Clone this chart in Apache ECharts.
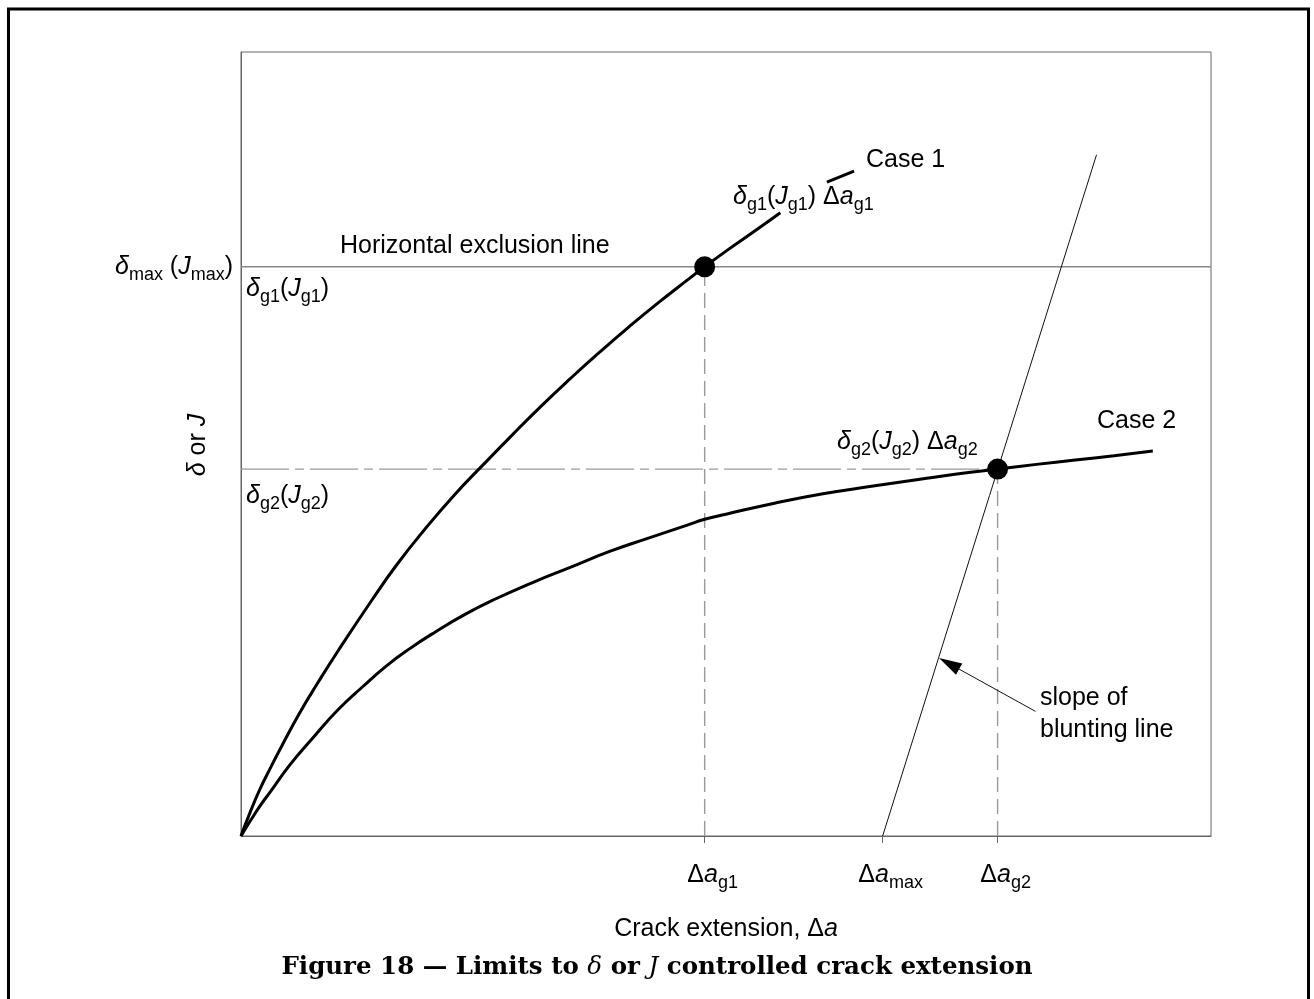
<!DOCTYPE html>
<html><head><meta charset="utf-8">
<script src="https://cdn.jsdelivr.net/npm/echarts@6/dist/echarts.min.js"></script>
<style>html,body{margin:0;padding:0;background:#fff}#c{width:1314px;height:999px}</style>
</head><body><div id="c"></div>
<script>
// ---------------- data ----------------
const xTickValues = [47.8, 66.15, 78.0];          // Δa_g1, Δa_max, Δa_g2
const xTickSubs   = ['g1', 'max', 'g2'];
const yTickValues = [72.6];                        // δmax (Jmax)
const deltaMax = 72.6;
const deltaG2  = 46.8;
const case1X = [0, 1, 2, 3, 4, 6, 8, 10, 13.5, 16, 19, 22, 25, 28, 31, 34, 37, 40, 43, 46, 47.8, 50, 53, 55.6];
const case1Y = [0, 3.2, 6.1, 8.6, 11.0, 15.6, 19.7, 23.6, 30.1, 34.5, 39.2, 43.5, 47.4, 51.2, 54.9, 58.4, 61.75, 64.95, 68.0, 70.9, 72.6, 74.6, 77.2, 79.5];
const case1TailX = [60.4, 63.2];
const case1TailY = [83.4, 84.8];
const case2X = [0, 1, 2, 3, 5, 7.4, 10, 12.6, 15, 17.4, 20, 23, 26, 30, 34, 38, 42, 46, 47.8, 50, 55, 60, 65, 70, 74, 78, 82, 86, 90, 94];
const case2Y = [0, 2.0, 3.9, 5.6, 9.0, 12.5, 16.1, 19.1, 21.7, 23.9, 26.0, 28.2, 30.1, 32.3, 34.3, 36.3, 38.0, 39.65, 40.4, 41.05, 42.45, 43.65, 44.6, 45.5, 46.2, 46.8, 47.4, 47.95, 48.5, 49.1];
const bluntX = [66.15, 88.2];
const bluntY = [0, 86.9];
const arrowTail = [81.9, 15.9];
const arrowHead = [71.96, 22.7];
const limitX = [47.8, 78.0];
const limitY = [72.6, 46.8];

// ---------------- styles ----------------
const F = 'Liberation Sans, Arial, Helvetica, sans-serif';
const FS = 'DejaVu Serif, Liberation Serif, serif';
const rich = {
  t:  {fontFamily: F, fontSize: 25, lineHeight: 30, color: '#000'},
  d:  {fontFamily: F, fontSize: 25, lineHeight: 30, color: '#000'},
  i:  {fontFamily: F, fontSize: 25, lineHeight: 30, fontStyle: 'italic', color: '#000'},
  s:  {fontFamily: F, fontSize: 18, lineHeight: 14, padding: [16, 0, 0, 0], color: '#000'},
  sp: {fontFamily: F, fontSize: 10, width: 16}
};
const zip = (xs, ys) => xs.map((x, k) => [x, ys[k]]);

const chart = echarts.init(document.getElementById('c'), null, {renderer: 'canvas'});
const option = {
  animation: false,
  backgroundColor: '#fff',
  grid: {left: 241, top: 52, right: 103, bottom: 163, show: true, borderColor: '#666', borderWidth: 1},
  xAxis: {
    type: 'value', min: 0, max: 100,
    splitLine: {show: false},
    axisLine: {show: true, lineStyle: {color: '#666', width: 1}},
    axisTick: {show: true, customValues: xTickValues, length: 7, lineStyle: {color: '#666', width: 1}},
    axisLabel: {
      show: true, customValues: xTickValues, margin: 24, align: 'center',
      formatter: (v) => {
        const k = xTickValues.indexOf(v);
        return '{sp| }{d|Δ}{i|a}{s|' + (k >= 0 ? xTickSubs[k] : '') + '}';
      },
      rich: rich
    },
    name: '{t|Crack extension, }{d|Δ}{i|a}',
    nameLocation: 'middle', nameGap: 78,
    nameTextStyle: {rich: rich}
  },
  yAxis: {
    type: 'value', min: 0, max: 100,
    splitLine: {show: false},
    axisLine: {show: true, lineStyle: {color: '#666', width: 1}},
    axisTick: {show: false},
    axisLabel: {
      show: true, customValues: yTickValues, margin: 8,
      formatter: () => '{i|δ}{s|max}{t| (}{i|J}{s|max}{t|)}',
      rich: rich
    }
  },
  series: [
    {type: 'line', name: 'Case 1', data: zip(case1X, case1Y), smooth: 0.5,
     showSymbol: false, symbol: 'none', lineStyle: {color: '#000', width: 3}, z: 5},
    {type: 'line', name: 'Case 1 tail', data: zip(case1TailX, case1TailY),
     showSymbol: false, symbol: 'none', lineStyle: {color: '#000', width: 3}, z: 5},
    {type: 'line', name: 'Case 2', data: zip(case2X, case2Y), smooth: 0.5,
     showSymbol: false, symbol: 'none', lineStyle: {color: '#000', width: 3}, z: 5},
    {type: 'line', name: 'Horizontal exclusion line', data: [[0, deltaMax], [100, deltaMax]],
     showSymbol: false, symbol: 'none', lineStyle: {color: '#888', width: 1.5}, z: 3},
    {type: 'line', name: 'dg2 level', data: [[0, deltaG2], [limitX[1], deltaG2]],
     showSymbol: false, symbol: 'none', lineStyle: {color: '#999', width: 1.3, type: [48, 6, 9, 6]}, z: 3},
    {type: 'line', name: 'dag1 drop', data: [[limitX[0], 0], [limitX[0], limitY[0]]],
     showSymbol: false, symbol: 'none', lineStyle: {color: '#999', width: 1.4, type: [15, 7]}, z: 3},
    {type: 'line', name: 'dag2 drop', data: [[limitX[1], 0], [limitX[1], limitY[1]]],
     showSymbol: false, symbol: 'none', lineStyle: {color: '#999', width: 1.4, type: [15, 7]}, z: 3},
    {type: 'line', name: 'Blunting line', data: zip(bluntX, bluntY),
     showSymbol: false, symbol: 'none', lineStyle: {color: '#111', width: 1}, z: 4},
    {type: 'scatter', name: 'limits', data: zip(limitX, limitY), symbol: 'circle', symbolSize: 21,
     itemStyle: {color: '#000', opacity: 1}, z: 10},
    {type: 'custom', name: 'arrow', clip: false, z: 6,
     data: [[arrowTail[0], arrowTail[1], arrowHead[0], arrowHead[1]]],
     renderItem: (params, api) => {
       const p0 = api.coord([api.value(0), api.value(1)]);
       const p1 = api.coord([api.value(2), api.value(3)]);
       const dx = p1[0] - p0[0], dy = p1[1] - p0[1];
       const L = Math.hypot(dx, dy), ux = dx / L, uy = dy / L;
       const hl = 23, hw = 6.5;
       const bx = p1[0] - ux * hl, by = p1[1] - uy * hl;
       return {type: 'group', children: [
         {type: 'line', shape: {x1: p0[0], y1: p0[1], x2: bx, y2: by}, style: {stroke: '#111', lineWidth: 1}},
         {type: 'polygon', shape: {points: [[p1[0], p1[1]], [bx - uy * hw, by + ux * hw], [bx + uy * hw, by - ux * hw]]},
          style: {fill: '#000'}}
       ]};
     }}
  ],
  graphic: [
    {type: 'rect', shape: {x: 8.5, y: 9, width: 1300, height: 1100}, style: {fill: 'none', stroke: '#000', lineWidth: 3}, z: 100},
    {type: 'text', x: 198, y: 445, rotation: Math.PI / 2,
     style: {text: '{i|δ}{t| or }{i|J}', rich: rich, align: 'center', verticalAlign: 'middle'}},
    {type: 'text', left: 340, top: 234, style: {text: '{t|Horizontal exclusion line}', rich: rich}},
    {type: 'text', left: 246, top: 272, style: {text: '{i|δ}{s|g1}{t|(}{i|J}{s|g1}{t|)}', rich: rich}},
    {type: 'text', left: 246, top: 479, style: {text: '{i|δ}{s|g2}{t|(}{i|J}{s|g2}{t|)}', rich: rich}},
    {type: 'text', left: 733, top: 180, style: {text: '{i|δ}{s|g1}{t|(}{i|J}{s|g1}{t|) }{d|Δ}{i|a}{s|g1}', rich: rich}},
    {type: 'text', left: 866, top: 148, style: {text: '{t|Case 1}', rich: rich}},
    {type: 'text', left: 837, top: 425, style: {text: '{i|δ}{s|g2}{t|(}{i|J}{s|g2}{t|) }{d|Δ}{i|a}{s|g2}', rich: rich}},
    {type: 'text', left: 1097, top: 409, style: {text: '{t|Case 2}', rich: rich}},
    {type: 'text', left: 1040, top: 682, style: {text: 'slope of\nblunting line', font: '25px ' + F, lineHeight: 32, fill: '#000'}},
    {type: 'text', left: 'center', top: 955, style: {
      text: '{b|Figure 18 — Limits to }{m|δ}{b| or }{m|J}{b| controlled crack extension}',
      rich: {
        b: {fontFamily: FS, fontWeight: 'bold', fontSize: 24.5, color: '#000'},
        m: {fontFamily: FS, fontStyle: 'italic', fontSize: 24.5, color: '#000'}
      }}}
  ]
};
chart.setOption(option);
</script>
</body></html>
